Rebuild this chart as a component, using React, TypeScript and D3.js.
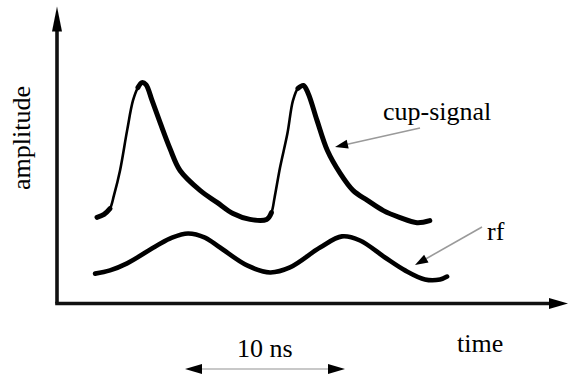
import React from "react";
import * as d3 from "d3";

// cup-signal trace (time in ns, amplitude in arbitrary units)
const cupTime = [2.5, 2.94, 3.31, 3.56, 3.94, 4.38, 4.75, 5.06, 5.31, 5.56, 5.94, 6.44, 7.06, 7.69, 8.94, 10.0, 11.0, 12.06, 13.1, 13.4, 13.6, 13.94, 14.4, 14.75, 15.06, 15.4, 15.7, 16.25, 16.9, 17.7, 18.5, 19.4, 20.4, 21.4, 22.5, 23.3];
const cupAmp = [2.94, 3.04, 3.24, 3.69, 4.54, 5.9, 6.93, 7.37, 7.54, 7.47, 6.93, 6.18, 5.29, 4.54, 3.86, 3.45, 3.07, 2.87, 2.87, 3.1, 3.62, 4.64, 5.8, 6.93, 7.34, 7.44, 7.17, 6.25, 5.22, 4.44, 3.86, 3.52, 3.17, 2.94, 2.76, 2.83];
// rising edges drawn thinner (as in the reference trace)
const cupRising = [false, false, false, true, true, true, true, false, false, false, false, false, false, false, false, false, false, false, false, false, true, true, true, true, false, false, false, false, false, false, false, false, false, false, false, false];

// rf trace
const rfTime = [2.38, 3.31, 4.38, 6.25, 7.19, 8.19, 9.25, 10.19, 11.88, 13.31, 14.56, 16.44, 17.81, 18.94, 20.5, 21.75, 23.0, 23.94, 24.38];
const rfAmp = [1.02, 1.13, 1.37, 1.98, 2.25, 2.39, 2.25, 1.91, 1.3, 1.06, 1.23, 1.91, 2.29, 2.15, 1.57, 1.13, 0.82, 0.82, 0.92];

const labels = { y: "amplitude", x: "time", cup: "cup-signal", rf: "rf", scale: "10 ns" };
const scaleBarNs = [8, 18];

const W = 571;
const H = 381;
const FONT = "Liberation Serif, DejaVu Serif, serif";

export default function App() {
  const x = d3.scaleLinear().domain([0, 32]).range([57, 569]);
  const y = d3.scaleLinear().domain([0, 10]).range([303.5, 10.5]);

  const cupData = cupTime.map((t, i) => ({ t, a: cupAmp[i], r: cupRising[i] }));
  const rfData = rfTime.map((t, i) => ({ t, a: rfAmp[i] }));

  const lineGen = d3
    .line<{ t: number; a: number }>()
    .x((d) => x(d.t))
    .y((d) => y(d.a))
    .curve(d3.curveCatmullRom.alpha(0.5));

  const thickGen = d3
    .line<{ t: number; a: number; r: boolean }>()
    .defined((d) => !d.r)
    .x((d) => x(d.t))
    .y((d) => y(d.a))
    .curve(d3.curveCatmullRom.alpha(0.5));

  const x0 = x(0);
  const y0 = y(0);
  const xEnd = x.range()[1];
  const yTop = y.range()[1];

  const head = (tx: number, ty: number, fx: number, fy: number, len: number, wid: number) => {
    const dx = tx - fx;
    const dy = ty - fy;
    const L = Math.hypot(dx, dy);
    const ux = dx / L;
    const uy = dy / L;
    const bx = tx - ux * len;
    const by = ty - uy * len;
    const px = -uy * wid / 2;
    const py = ux * wid / 2;
    return `M${tx},${ty}L${bx + px},${by + py}L${bx - px},${by - py}Z`;
  };

  const pointer = (fx: number, fy: number, tx: number, ty: number) => (
    <g>
      <line x1={fx} y1={fy} x2={tx - (tx - fx) * 0.08} y2={ty - (ty - fy) * 0.08} stroke="#9a9a9a" strokeWidth={1.6} />
      <path d={head(tx, ty, fx, fy, 13, 9)} fill="#000" />
    </g>
  );

  const sbY = 369;
  const sb0 = x(scaleBarNs[0]);
  const sb1 = x(scaleBarNs[1]);

  const textStyle: React.CSSProperties = { fontFamily: FONT, fontSize: "26px" };

  return (
    <svg width={W} height={H} style={{ position: "absolute", left: 0, top: 0, background: "#fff" }}>
      {/* axes */}
      <line x1={x0} y1={y0} x2={x0} y2={yTop + 18} stroke="#111" strokeWidth={3.6} />
      <path d={head(x0, yTop - 4, x0, y0, 25, 10)} fill="#000" />
      <line x1={x0 - 1.8} y1={y0} x2={xEnd - 18} y2={y0} stroke="#111" strokeWidth={3.6} />
      <path d={head(xEnd - 1, y0, x0, y0, 19, 11)} fill="#000" />

      {/* traces */}
      <path d={lineGen(cupData) || ""} fill="none" stroke="#000" strokeWidth={2.6} strokeLinecap="round" strokeLinejoin="round" />
      <path d={thickGen(cupData) || ""} fill="none" stroke="#000" strokeWidth={5} strokeLinecap="round" strokeLinejoin="round" />
      <path d={lineGen(rfData) || ""} fill="none" stroke="#000" strokeWidth={4.6} strokeLinecap="round" strokeLinejoin="round" />

      {/* pointers */}
      {pointer(420, 128, 335, 147)}
      {pointer(482, 227, 415, 265)}

      {/* scale bar */}
      <line x1={sb0 + 10} y1={sbY} x2={sb1 - 10} y2={sbY} stroke="#c8c8c8" strokeWidth={2} />
      <path d={head(sb0, sbY, sb1, sbY, 17, 10)} fill="#000" />
      <path d={head(sb1, sbY, sb0, sbY, 17, 10)} fill="#000" />

      {/* text */}
      <g fill="#000">
        <text style={textStyle} x={383} y={120}>{labels.cup}</text>
        <text style={textStyle} x={487} y={240}>{labels.rf}</text>
        <text style={textStyle} x={457} y={352}>{labels.x}</text>
        <text style={textStyle} x={237} y={357}>{labels.scale}</text>
        <text style={textStyle} transform="translate(30,138) rotate(-90)" textAnchor="middle">{labels.y}</text>
      </g>
    </svg>
  );
}
